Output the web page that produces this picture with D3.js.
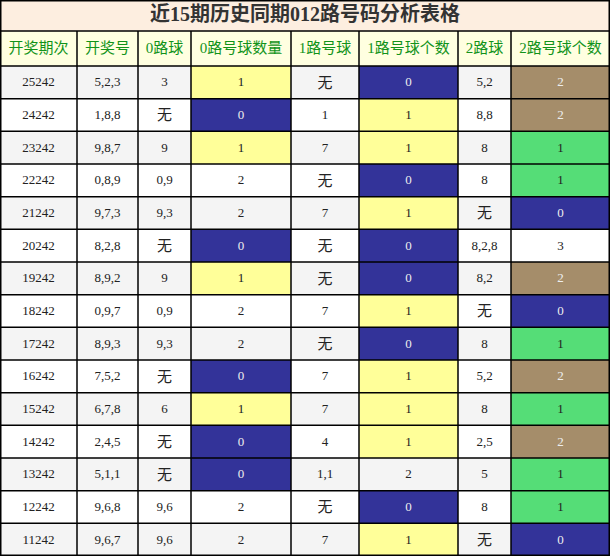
<!DOCTYPE html><html><head><meta charset="utf-8"><script src="https://cdn.jsdelivr.net/npm/d3@7"></script>
<style>body{margin:0;background:#fff}text{font-family:"Liberation Serif","Noto Sans CJK SC",serif}</style></head><body><svg id="c" width="610" height="556"></svg>
<script>
const title="近15期历史同期012路号码分析表格";
const headers=["开奖期次","开奖号","0路球","0路号球数量","1路号球","1路号球个数","2路球","2路号球个数"];
const periods=["25242","24242","23242","22242","21242","20242","19242","18242","17242","16242","15242","14242","13242","12242","11242"];
const draws=["5,2,3","1,8,8","9,8,7","0,8,9","9,7,3","8,2,8","8,9,2","0,9,7","8,9,3","7,5,2","6,7,8","2,4,5","5,1,1","9,6,8","9,6,7"];
const road0=["3","无","9","0,9","9,3","无","9","0,9","9,3","无","6","无","无","9,6","9,6"];
const count0=[1,0,1,2,2,0,1,2,2,0,1,0,0,2,2];
const road1=["无","1","7","无","7","无","无","7","无","7","7","4","1,1","无","7"];
const count1=[0,1,1,0,1,0,0,1,0,1,1,1,2,0,1];
const road2=["5,2","8,8","8","8","无","8,2,8","8,2","无","8","5,2","8","2,5","5","8","无"];
const count2=[2,2,1,1,0,3,2,0,1,2,1,2,1,1,0];
const colW=[77,61,53,100,68,99,53,99];
const svg=d3.select("#c");
const edges=[0];colW.forEach(w=>edges.push(edges[edges.length-1]+w));
const titleH=31,headH=35;
const y=d3.scaleBand().domain(d3.range(periods.length)).range([titleH+headH,556]);
svg.append("rect").attr("x",0).attr("y",0).attr("width",610).attr("height",titleH).attr("fill","#fdeee0");
svg.append("text").attr("x",305).attr("y",titleH/2+1).attr("text-anchor","middle").attr("dominant-baseline","middle").attr("font-size",20).attr("font-weight","bold").attr("fill","#333").text(title);
headers.forEach((h,i)=>{
 svg.append("rect").attr("x",edges[i]).attr("y",titleH).attr("width",colW[i]).attr("height",headH).attr("fill","#ffffe0");
 svg.append("text").attr("x",edges[i]+colW[i]/2).attr("y",titleH+headH/2+1).attr("text-anchor","middle").attr("dominant-baseline","middle").attr("font-size",15).attr("fill","#11931a").text(h);
});
function countFill(v,two){if(v===0)return"#333399";if(v===1)return two?"#55dd77":"#ffff99";if(v===2)return two?"#a58d6a":null;return null;}
periods.forEach((p,r)=>{
 const base=r%2===0?"#f4f4f4":"#ffffff";
 const cells=[p,draws[r],road0[r],count0[r],road1[r],count1[r],road2[r],count2[r]];
 cells.forEach((v,i)=>{
  let fill=base,col="#222";
  if(i===3||i===5||i===7){const f=countFill(v,i===7);if(f){fill=f;}
   if(fill==="#333399"||fill==="#a58d6a")col="#eee"; if(fill==="#55dd77")col="#222";}
  svg.append("rect").attr("x",edges[i]).attr("y",y(r)).attr("width",colW[i]).attr("height",y.bandwidth()).attr("fill",fill);
  const wu=v==="无";
  svg.append("text").attr("x",edges[i]+colW[i]/2).attr("y",y(r)+y.bandwidth()/2+(wu?2:1)).attr("text-anchor","middle").attr("dominant-baseline","middle").attr("font-size",wu?15:13).attr("font-family",wu?"Noto Sans CJK SC":null).attr("fill",col).text(v);
 });
});
// grid
const g=svg.append("g").attr("stroke","#000").attr("stroke-width",1.5);
edges.forEach(x=>g.append("line").attr("x1",Math.min(Math.max(x,0.75),609.25)).attr("x2",Math.min(Math.max(x,0.75),609.25)).attr("y1",titleH).attr("y2",556));
[titleH,titleH+headH,...periods.map((_,r)=>y(r)+y.bandwidth())].forEach(yy=>g.append("line").attr("x1",0).attr("x2",610).attr("y1",Math.min(yy,555.25)).attr("y2",Math.min(yy,555.25)));
g.append("line").attr("x1",0.75).attr("x2",0.75).attr("y1",0).attr("y2",titleH);
g.append("line").attr("x1",609.25).attr("x2",609.25).attr("y1",0).attr("y2",titleH);
g.append("line").attr("x1",0).attr("x2",610).attr("y1",0.75).attr("y2",0.75);
</script></body></html>
